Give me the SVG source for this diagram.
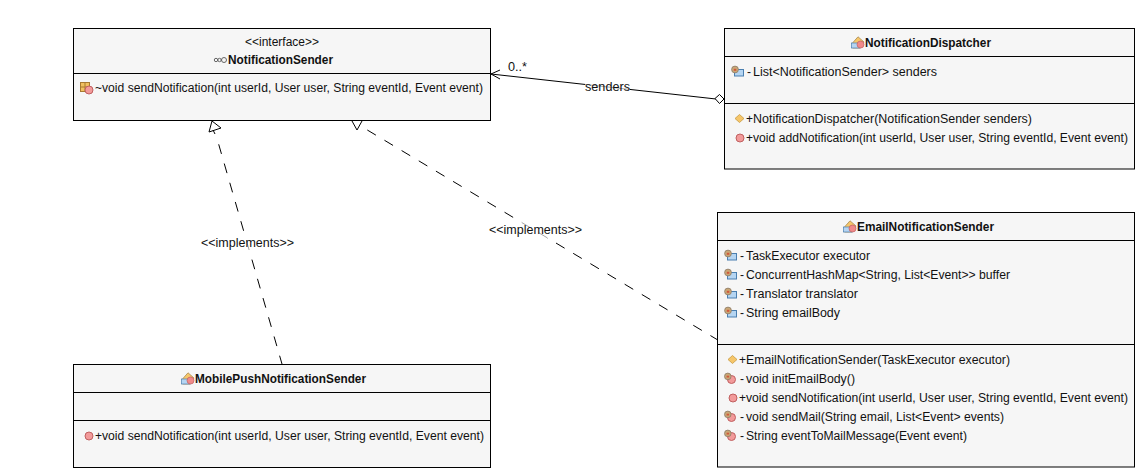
<svg xmlns="http://www.w3.org/2000/svg" width="1140" height="473" viewBox="0 0 1140 473">
<style>
text{font-family:"Liberation Sans",Arial,sans-serif;font-size:12px;fill:#111}
.b{font-weight:bold}
.box{fill:#f6f6f6;stroke:#000;stroke-width:1}
.div{stroke:#000;stroke-width:1;fill:none}
.con{stroke:#000;stroke-width:1;fill:none}
.dash{stroke-dasharray:10 10}
.veil{fill:#fff;fill-opacity:.65}
</style>
<defs>
<g id="field">
<rect x="3.500" y="3.500" width="9" height="6.500" fill="#b5d5f2" stroke="#4a7fb0" stroke-width="1"/>
<circle cx="4" cy="3.500" r="3.400" fill="#c9a876" stroke="#8a7a6a" stroke-width="0.8"/>
<rect x="2.800" y="2.800" width="2.500" height="2" fill="#d2573a"/>
</g>
<g id="method"><circle cx="5" cy="5" r="4" fill="#f29a9a" stroke="#c06060" stroke-width="1"/></g>
<g id="pmethod">
<circle cx="7.500" cy="6.500" r="4" fill="#f29a9a" stroke="#c06060" stroke-width="1"/>
<circle cx="3.800" cy="3.400" r="3.300" fill="#c9a876" stroke="#8a7a6a" stroke-width="0.8"/>
<rect x="2.600" y="2.700" width="2.500" height="1.800" fill="#d2573a"/>
</g>
<g id="ctor"><path d="M4.500 0.500 9 4.500 4.500 8.500 0 4.500Z" fill="#f6c66a" stroke="#c89a40" stroke-width="0.8"/></g>
<g id="cls">
<path d="M1.500 7 7 0.800 13 6 9 12H1.500Z" fill="#f6c66a" stroke="#a88a50" stroke-width="0.800"/>
<rect x="0.500" y="7" width="9" height="5" fill="#b5d5f2" stroke="#4a7fb0" stroke-width="0.700"/>
<circle cx="9.500" cy="8.500" r="3.500" fill="#f08a8a" stroke="#c06060" stroke-width="0.700"/>
</g>
<g id="pkgm">
<rect x="0.500" y="0.500" width="9" height="9" fill="#f0c060" stroke="#a87a30" stroke-width="1"/>
<path d="M5 0.500V9.500M0.500 5H9.500" stroke="#a87a30" stroke-width="1"/>
<circle cx="9" cy="8" r="4" fill="#f29a9a" stroke="#c06060" stroke-width="1"/>
</g>
<g id="iface"><g fill="none" stroke="#666" stroke-width="1"><circle cx="2" cy="3" r="1.700"/><circle cx="5.500" cy="3" r="1.700"/><circle cx="10" cy="3" r="2.500"/><path d="M7 3H8"/></g></g>
</defs>

<g id="connectors">
<path class="con dash" d="M218.700 144.300 282 364"/>
<path class="con" d="M212 121 221 128 209 132ZM213 130 215 134"/>
<path class="con dash" d="M367.300 130 717 339.500"/>
<path class="con" d="M352 121 357 130 362 121"/>
<path class="con" d="M491 74 716 99M500 70 491 74 500 79"/>
<path d="M715 98.500 719.500 94.500 724 99 719.500 103.500Z" fill="#fff" stroke="#000"/>
<rect class="veil" x="585" y="81" width="45" height="13"/>
<rect class="veil" x="201" y="236" width="93" height="15"/>
<rect class="veil" x="489" y="222" width="93" height="16"/>
<text x="508" y="71" textLength="19" lengthAdjust="spacingAndGlyphs">0..*</text>
<text x="585" y="91" textLength="45" lengthAdjust="spacingAndGlyphs">senders</text>
<text x="201" y="247" textLength="93" lengthAdjust="spacingAndGlyphs">&lt;&lt;implements&gt;&gt;</text>
<text x="489" y="234" textLength="93" lengthAdjust="spacingAndGlyphs">&lt;&lt;implements&gt;&gt;</text>
</g>

<g id="NotificationSender">
<rect class="box" x="73.500" y="28.500" width="417" height="92"/>
<path class="div" d="M73.500 73.500H490.500"/>
<text x="245" y="46" textLength="74" lengthAdjust="spacingAndGlyphs">&lt;&lt;interface&gt;&gt;</text>
<use href="#iface" x="214" y="57"/>
<text class="b" x="228" y="64" textLength="105" lengthAdjust="spacingAndGlyphs">NotificationSender</text>
<use href="#pkgm" x="80" y="82"/>
<text x="95" y="92">~<tspan x="102" textLength="381" lengthAdjust="spacingAndGlyphs">void sendNotification(int userId, User user, String eventId, Event event)</tspan></text>
</g>

<g id="NotificationDispatcher">
<rect class="box" x="724.500" y="28.500" width="410" height="140.500"/>
<path class="div" d="M724.500 56.500H1134.500M724.500 103.500H1134.500"/>
<use href="#cls" x="851" y="36"/>
<text class="b" x="865" y="47" textLength="126" lengthAdjust="spacingAndGlyphs">NotificationDispatcher</text>
<use href="#field" x="731" y="66"/>
<text x="747" y="76">-<tspan x="753" textLength="184" lengthAdjust="spacingAndGlyphs">List&lt;NotificationSender&gt; senders</tspan></text>
<use href="#ctor" x="735" y="114"/>
<text x="746" y="123">+<tspan x="753" textLength="279" lengthAdjust="spacingAndGlyphs">NotificationDispatcher(NotificationSender senders)</tspan></text>
<use href="#method" x="735" y="133"/>
<text x="746" y="142">+<tspan x="753" textLength="375" lengthAdjust="spacingAndGlyphs">void addNotification(int userId, User user, String eventId, Event event)</tspan></text>
</g>

<g id="EmailNotificationSender">
<rect class="box" x="717.500" y="212.500" width="417" height="254.500"/>
<path class="div" d="M717.500 240.500H1134.500M717.500 344.500H1134.500"/>
<use href="#cls" x="843" y="220"/>
<text class="b" x="857" y="231" textLength="137" lengthAdjust="spacingAndGlyphs">EmailNotificationSender</text>
<use href="#field" x="724" y="250"/>
<text x="740" y="260">-<tspan x="746" textLength="124" lengthAdjust="spacingAndGlyphs">TaskExecutor executor</tspan></text>
<use href="#field" x="724" y="269"/>
<text x="740" y="279">-<tspan x="746" textLength="264" lengthAdjust="spacingAndGlyphs">ConcurrentHashMap&lt;String, List&lt;Event&gt;&gt; buffer</tspan></text>
<use href="#field" x="724" y="288"/>
<text x="740" y="298">-<tspan x="746" textLength="112" lengthAdjust="spacingAndGlyphs">Translator translator</tspan></text>
<use href="#field" x="724" y="307"/>
<text x="740" y="317">-<tspan x="746" textLength="94" lengthAdjust="spacingAndGlyphs">String emailBody</tspan></text>
<use href="#ctor" x="728" y="355"/>
<text x="739" y="364">+<tspan x="746" textLength="264" lengthAdjust="spacingAndGlyphs">EmailNotificationSender(TaskExecutor executor)</tspan></text>
<use href="#pmethod" x="724" y="373"/>
<text x="740" y="383">-<tspan x="746" textLength="109" lengthAdjust="spacingAndGlyphs">void initEmailBody()</tspan></text>
<use href="#method" x="728" y="393"/>
<text x="739" y="402">+<tspan x="746" textLength="382" lengthAdjust="spacingAndGlyphs">void sendNotification(int userId, User user, String eventId, Event event)</tspan></text>
<use href="#pmethod" x="724" y="411"/>
<text x="740" y="421">-<tspan x="746" textLength="258" lengthAdjust="spacingAndGlyphs">void sendMail(String email, List&lt;Event&gt; events)</tspan></text>
<use href="#pmethod" x="724" y="430"/>
<text x="740" y="440">-<tspan x="746" textLength="221" lengthAdjust="spacingAndGlyphs">String eventToMailMessage(Event event)</tspan></text>
</g>

<g id="MobilePushNotificationSender">
<rect class="box" x="73.500" y="364.500" width="417" height="103"/>
<path class="div" d="M73.500 392.500H490.500M73.500 420.500H490.500"/>
<use href="#cls" x="181" y="372"/>
<text class="b" x="195" y="383" textLength="171" lengthAdjust="spacingAndGlyphs">MobilePushNotificationSender</text>
<use href="#method" x="84" y="431"/>
<text x="95" y="440">+<tspan x="102" textLength="382" lengthAdjust="spacingAndGlyphs">void sendNotification(int userId, User user, String eventId, Event event)</tspan></text>
</g>
</svg>
